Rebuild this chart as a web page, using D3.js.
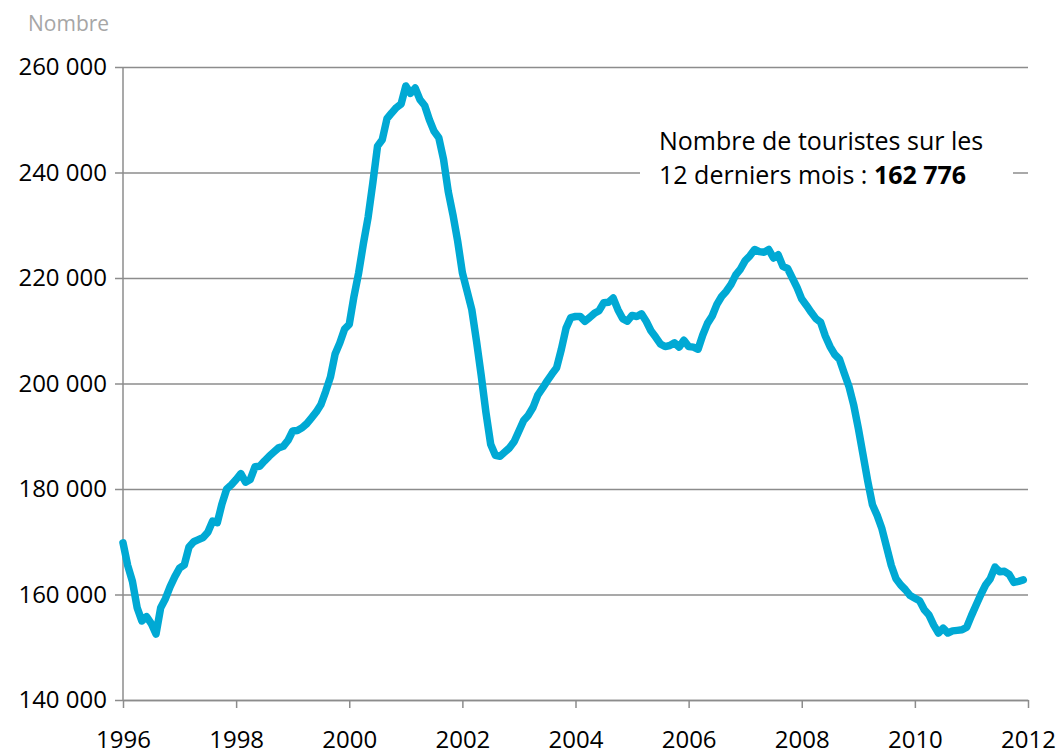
<!DOCTYPE html>
<html>
<head>
<meta charset="utf-8">
<script src="https://cdn.jsdelivr.net/npm/d3@7"></script>
<style>
  body { margin: 0; background: #fff; }
  svg text { font-family: "Open Sans", "Noto Sans", sans-serif; }
</style>
</head>
<body>
<div id="chart"></div>
<script>

// Monthly values (12-month rolling total of tourists), Jan 1996 .. Dec 2011
var startYear = 1996;
var touristValues = [
    169800, 165500, 162500, 157500, 155000, 155800, 154500, 152500, 157500, 159200, 161500, 163400,
    165000, 165600, 169000, 170000, 170400, 170800, 171800, 173900, 173600, 177200, 180000, 180800,
    181800, 182900, 181300, 181800, 184200, 184300, 185300, 186200, 187000, 187800, 188100, 189200,
    191000, 191100, 191600, 192400, 193500, 194600, 196000, 198500, 201200, 205600, 207700, 210300,
    211200, 216500, 221000, 226500, 231500, 238000, 245000, 246200, 250200, 251300, 252300, 253000,
    256400, 255000, 256000, 253800, 252700, 250000, 247800, 246600, 242500, 236400, 232000, 227000,
    221000, 217500, 214000, 208000, 201500, 194500, 188500, 186400, 186200, 187000, 187800, 189000,
    191000, 193000, 194000, 195500, 197800, 199100, 200500, 201800, 203000, 206500, 210500, 212500,
    212700, 212700, 211800, 212500, 213300, 213800, 215300, 215400, 216200, 214000, 212300, 211800,
    212900, 212700, 213200, 211800, 210000, 208800, 207500, 207000, 207200, 207700, 206900, 208200,
    207000, 206900, 206500, 209200, 211400, 212800, 215000, 216500, 217500, 218800, 220600, 221700,
    223300, 224200, 225400, 225000, 224900, 225400, 223800, 224400, 222200, 221800, 220000, 218200,
    216000, 214800, 213500, 212300, 211600, 209000, 207000, 205500, 204600, 202000, 199500, 196000,
    191500, 186500, 181500, 177000, 175000, 172500, 169000, 165500, 163000, 161800, 160900, 159800,
    159300, 158800, 157100, 156100, 154200, 152700, 153600, 152700, 153100, 153200, 153300, 153800,
    156000, 158000, 160000, 161800, 163000, 165200, 164300, 164400, 163800, 162300, 162500, 162776
];
var xTickYears = [1996, 1998, 2000, 2002, 2004, 2006, 2008, 2010, 2012];
var yTickValues = [140000, 160000, 180000, 200000, 220000, 240000, 260000];
var yUnitLabel = "Nombre";
var noteLine1 = "Nombre de touristes sur les";
var noteLine2 = "12 derniers mois : ";
var noteValue = "162 776";

var data = touristValues.map(function(v, i) {
    return { t: startYear + i / 12, value: v };
});

var W = 1059, H = 754;
var margin = { top: 67, right: 31, bottom: 54, left: 123 },
    width = W - margin.left - margin.right,
    height = H - margin.top - margin.bottom;

var svg = d3.select("#chart").append("svg")
    .attr("width", W)
    .attr("height", H);

var g = svg.append("g")
    .attr("transform", "translate(" + margin.left + "," + margin.top + ")");

var x = d3.scaleLinear().domain([1996, 2012]).range([0, width]);
var y = d3.scaleLinear().domain([140000, 260000]).range([height, 0]);

var fmt = function(d) { return d3.format(",")(d).replace(/,/g, " "); };

// Gridlines + y axis
var yAxis = g.append("g")
    .call(d3.axisLeft(y).tickValues(yTickValues).tickSize(-width).tickSizeOuter(0).tickPadding(16).tickFormat(fmt));
yAxis.select(".domain").remove();
yAxis.selectAll(".tick line")
    .attr("x1", -8)
    .attr("stroke", "#8c8c8c")
    .attr("stroke-width", 1.5);
yAxis.selectAll(".tick text")
    .attr("fill", "#000")
    .style("font-size", "24px");

// Vertical axis line
g.append("line")
    .attr("x1", 0).attr("x2", 0)
    .attr("y1", 0).attr("y2", height)
    .attr("stroke", "#8c8c8c")
    .attr("stroke-width", 1.5);

// x axis
var xAxis = g.append("g")
    .attr("transform", "translate(0," + height + ")")
    .call(d3.axisBottom(x).tickValues(xTickYears).tickSize(8).tickSizeOuter(0).tickPadding(23).tickFormat(d3.format("d")));
xAxis.select(".domain")
    .attr("stroke", "#8c8c8c")
    .attr("stroke-width", 1.5);
xAxis.selectAll(".tick line")
    .attr("stroke", "#8c8c8c")
    .attr("stroke-width", 1.5);
xAxis.selectAll(".tick text")
    .attr("fill", "#000")
    .style("font-size", "24px");

// Unit label
svg.append("text")
    .attr("x", 28)
    .attr("y", 31)
    .attr("fill", "#a6a6a6")
    .style("font-size", "21px")
    .text(yUnitLabel);

// Annotation box (hides the gridline behind it)
g.append("rect")
    .attr("x", 640 - margin.left)
    .attr("y", 125 - margin.top)
    .attr("width", 373)
    .attr("height", 72)
    .attr("fill", "#fff");

var note = g.append("text")
    .attr("x", 659 - margin.left)
    .attr("y", 150 - margin.top)
    .attr("fill", "#000")
    .style("font-size", "25px");
note.append("tspan").text(noteLine1);
note.append("tspan")
    .attr("x", 659 - margin.left)
    .attr("dy", 34)
    .text(noteLine2);
note.append("tspan")
    .style("font-weight", "bold")
    .text(noteValue);

// Line
var line = d3.line()
    .x(function(d) { return x(d.t); })
    .y(function(d) { return y(d.value); });

g.append("path")
    .datum(data)
    .attr("fill", "none")
    .attr("stroke", "#00a9d4")
    .attr("stroke-width", 7.5)
    .attr("stroke-linejoin", "round")
    .attr("stroke-linecap", "round")
    .attr("d", line);

</script>
</body>
</html>
